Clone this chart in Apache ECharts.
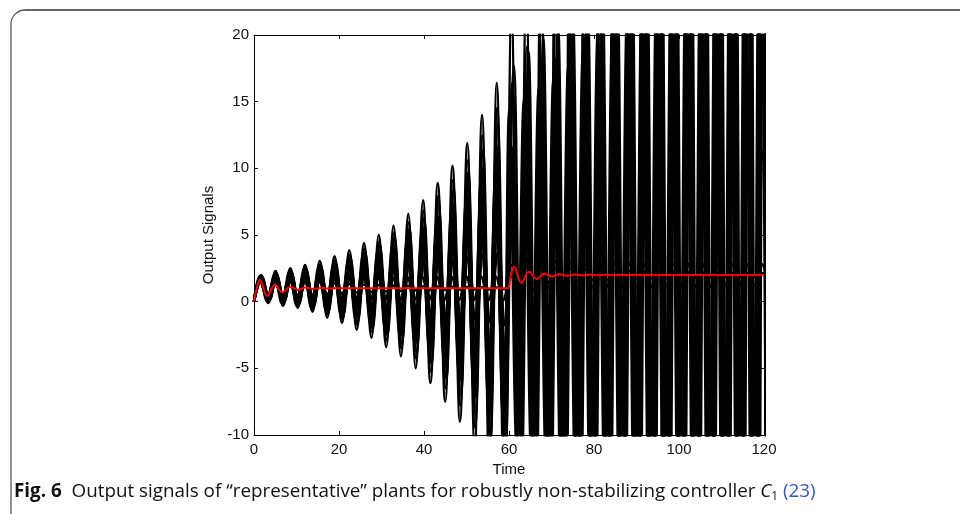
<!DOCTYPE html>
<html><head><meta charset="utf-8">
<script src="https://cdn.jsdelivr.net/npm/echarts@6/dist/echarts.min.js"></script>
<style>html,body{margin:0;padding:0;background:#fff}#c{width:960px;height:514px}</style>
</head><body><div id="c"></div>
<script>
// ---- axes ----
const xTicks = [0, 20, 40, 60, 80, 100, 120];
const yTicks = [-10, -5, 0, 5, 10, 15, 20];

// ---- extrema times (phase groups) ----
const tGrid1 = [0, 1.6, 3.34, 5.07, 6.81, 8.54, 10.28, 12.01, 13.75, 15.48, 17.22, 18.95, 20.69, 22.42, 24.16, 25.89, 27.63, 29.36, 31.1, 32.83, 34.57, 36.3, 38.04, 39.77, 41.51, 43.24, 44.98, 46.71, 48.45, 50.18, 51.92, 53.65, 55.39, 57.12, 58.86,
  60.59, 62.33, 64.06, 65.8, 67.53, 69.27, 71.0, 72.74, 74.47, 76.21, 77.94, 79.68, 81.41, 83.15, 84.88, 86.62, 88.35, 90.09, 91.82, 93.56, 95.29, 97.03, 98.76, 100.5, 102.23, 103.97, 105.7, 107.44, 109.17, 110.91, 112.64, 114.38, 116.11, 117.85, 119.58, 121.32];
const tGrid2 = [0, 1.85, 3.59, 5.32, 7.06, 8.79, 10.53, 12.26, 14.0, 15.73, 17.47, 19.2, 20.94, 22.67, 24.41, 26.14, 27.88, 29.61, 31.35, 33.08, 34.82, 36.55, 38.29, 40.02, 41.76, 43.49, 45.23, 46.96, 48.7, 50.43, 52.17, 53.9, 55.64, 57.37, 59.11,
  60.74, 62.48, 64.21, 65.95, 67.68, 69.42, 71.15, 72.89, 74.62, 76.36, 78.09, 79.83, 81.56, 83.3, 85.03, 86.77, 88.5, 90.24, 91.97, 93.71, 95.44, 97.18, 98.91, 100.65, 102.38, 104.12, 105.85, 107.59, 109.32, 111.06, 112.79, 114.53, 116.26, 118.0, 119.73, 121.47];
const tGrid3 = [0, 1.35, 3.09, 4.82, 6.56, 8.29, 10.03, 11.76, 13.5, 15.23, 16.97, 18.7, 20.44, 22.17, 23.91, 25.64, 27.38, 29.11, 30.85, 32.58, 34.32, 36.05, 37.79, 39.52, 41.26, 42.99, 44.73, 46.46, 48.2, 49.93, 51.67, 53.4, 55.14, 56.87, 58.61,
  60.44, 62.18, 63.91, 65.65, 67.38, 69.12, 70.85, 72.59, 74.32, 76.06, 77.79, 79.53, 81.26, 83.0, 84.73, 86.47, 88.2, 89.94, 91.67, 93.41, 95.14, 96.88, 98.61, 100.35, 102.08, 103.82, 105.55, 107.29, 109.02, 110.76, 112.49, 114.23, 115.96, 117.7, 119.43, 121.17];
const tGrid4 = [0, 1.7, 3.44, 5.17, 6.91, 8.64, 10.38, 12.11, 13.85, 15.58, 17.32, 19.05, 20.79, 22.52, 24.26, 25.99, 27.73, 29.46, 31.2, 32.93, 34.67, 36.4, 38.14, 39.87, 41.61, 43.34, 45.08, 46.81, 48.55, 50.28, 52.02, 53.75, 55.49, 57.22, 58.96,
  61.14, 62.88, 64.61, 66.35, 68.08, 69.82, 71.55, 73.29, 75.02, 76.76, 78.49, 80.23, 81.96, 83.7, 85.43, 87.17, 88.9, 90.64, 92.37, 94.11, 95.84, 97.58, 99.31, 101.05, 102.78, 104.52, 106.25, 107.99, 109.72, 111.46, 113.19, 114.93, 116.66, 118.4, 120.13, 121.87];
const tGrid5 = [0, 1.5, 3.24, 4.97, 6.71, 8.44, 10.18, 11.91, 13.65, 15.38, 17.12, 18.85, 20.59, 22.32, 24.06, 25.79, 27.53, 29.26, 31.0, 32.73, 34.47, 36.2, 37.94, 39.67, 41.41, 43.14, 44.88, 46.61, 48.35, 50.08, 51.82, 53.55, 55.29, 57.02, 58.76,
  60.04, 61.78, 63.51, 65.25, 66.98, 68.72, 70.45, 72.19, 73.92, 75.66, 77.39, 79.13, 80.86, 82.6, 84.33, 86.07, 87.8, 89.54, 91.27, 93.01, 94.74, 96.48, 98.21, 99.95, 101.68, 103.42, 105.15, 106.89, 108.62, 110.36, 112.09, 113.83, 115.56, 117.3, 119.03, 120.77];

// ---- black output signals (values at the extrema) ----
const plantA = [0, 2.0,-0.1, 2.3,-0.3, 2.5,-0.45, 2.75,-0.75, 3.05,-1.2, 3.4,-1.6, 3.85,-2.1, 4.4,-2.7, 5.0,-3.4, 5.7,-4.1, 6.6,-5.0, 7.6,-6.1, 8.9,-7.5, 10.2,-9.0, 11.9,-10.9, 14.0,-13.0, 16.4,-15.5,
  21.6,-17.6, 23.4,-21.3, 27.4,-25.7, 32.2,-30.9, 37.9,-37.1, 44.6,-44.4, 52.6,-53.2, 62.1,-63.5, 73.4,-75.9, 86.9,-90.5, 102.8,-107.9, 121.8,-128.6, 144.3,-153, 171,-182, 203,-217, 241,-258, 286,-307, 339,-365];
const plantD = [0, 1.85,0.1, 1.95,0.0, 2.05,-0.11, 2.17,-0.24, 2.31,-0.38, 2.45,-0.53, 2.62,-0.71, 2.8,-0.9, 3.0,-1.11, 3.23,-1.35, 3.48,-1.62, 3.76,-1.91, 4.07,-2.24, 4.42,-2.61, 4.81,-3.02, 5.24,-3.47, 5.72,-3.98,
  7.25,-3.54, 7.85,-4.17, 8.51,-4.87, 9.25,-5.64, 10.06,-6.51, 10.98,-7.47, 11.99,-8.5, 13.1,-9.7, 14.4,-11.1, 15.8,-12.5, 17.3,-14.2, 19.1,-16, 21,-18, 23.1,-20.3, 25.5,-22.8, 28.2,-25.6, 31.2,-28.8, 34.5,-32.3];
const plantG = [0, 1.8,0.26, 1.69,0.36, 1.6,0.44, 1.52,0.52, 1.45,0.58, 1.39,0.64, 1.33,0.69, 1.29,0.73, 1.25,0.77, 1.22,0.8, 1.19,0.83, 1.16,0.85, 1.14,0.87, 1.12,0.89, 1.1,0.91, 1.08,0.92, 1.07,0.93,
  2.75,1.3, 2.65,1.38, 2.58,1.45, 2.52,1.51, 2.46,1.56, 2.41,1.61, 2.37,1.65, 2.33,1.68, 2.3,1.71, 2.27,1.74, 2.24,1.76, 2.22,1.78, 2.2,1.8, 2.18,1.82, 2.16,1.84, 2.15,1.85, 2.14,1.86, 2.13,1.87];
const plantL = [0, 1.55,0.4, 1.72,0.28, 1.83,0.2, 1.96,0.04, 2.13,-0.21, 2.32,-0.43, 2.57,-0.71, 2.87,-1.04, 3.2,-1.42, 3.59,-1.81, 4.08,-2.3, 4.63,-2.91, 5.35,-3.68, 6.06,-4.5, 7.0,-5.55, 8.15,-6.7, 9.47,-8.08,
  11.7,-8.3, 12.9,-9.6, 14.3,-11, 15.8,-12.6, 17.5,-14.4, 19.4,-16.4, 21.5,-18.7, 23.9,-21.3, 26.7,-24.1, 29.7,-27.4, 33.1,-31, 37,-35.1, 41.3,-39.6, 46.1,-44.8, 51.6,-50.5, 57.7,-57, 64.6,-64.3, 72.3,-72.5];
const plantB = [0, 1.8,0.1, 2.0,-0.05, 2.2,-0.2, 2.4,-0.4, 2.65,-0.75, 2.9,-1.1, 3.3,-1.5, 3.7,-2.0, 4.2,-2.5, 4.8,-3.1, 5.5,-3.8, 6.3,-4.7, 7.3,-5.8, 8.4,-7.0, 9.7,-8.5, 11.4,-10.2, 13.3,-12.2,
  16.4,-13.7, 19.1,-16.6, 22.3,-20.1, 26.1,-24.3, 30.7,-29.2, 36,-35, 42.4,-42, 50,-50.3, 59,-60, 69.6,-71.7, 82,-85.6, 97.5,-102, 115,-121, 136,-144, 162,-172, 192,-205, 227,-243, 269,-289];
const plantE = [0, 1.9,0.07, 1.96,0.0, 2.03,-0.07, 2.1,-0.14, 2.18,-0.23, 2.27,-0.31, 2.36,-0.41, 2.46,-0.51, 2.56,-0.61, 2.67,-0.73, 2.79,-0.85, 2.92,-0.98, 3.05,-1.13, 3.2,-1.28, 3.36,-1.44, 3.52,-1.61, 3.7,-1.8,
  4.9,-1.0, 5.1,-1.21, 5.33,-1.44, 5.56,-1.69, 5.82,-1.95, 6.09,-2.23, 6.38,-2.53, 6.69,-2.86, 7.03,-3.2, 7.38,-3.57, 7.77,-3.97, 8.18,-4.4, 8.62,-4.85, 9.09,-5.34, 9.6,-5.86, 10.14,-6.42, 10.72,-7.02, 11.34,-7.67];
const plantH = [0, 1.7,0.25, 1.79,0.15, 1.9,0.04, 2.02,-0.09, 2.16,-0.23, 2.31,-0.4, 2.49,-0.59, 2.69,-0.8, 2.92,-1.04, 3.17,-1.31, 3.46,-1.62, 3.79,-1.98, 4.17,-2.38, 4.6,-2.83, 5.08,-3.35, 5.63,-3.93, 6.25,-4.59,
  7.95,-4.34, 8.75,-5.19, 9.66,-6.16, 10.69,-7.25, 11.85,-8.5, 13.2,-9.9, 14.7,-11.5, 16.4,-13.3, 18.3,-15.4, 20.5,-17.7, 23,-20.3, 25.8,-23.3, 29,-26.7, 32.6,-30.6, 36.7,-34.9, 41.3,-39.9, 46.6,-45.5, 52.6,-51.9];
const plantM = [0, 1.75,0.2, 1.86,0.08, 1.98,-0.05, 2.12,-0.2, 2.29,-0.38, 2.47,-0.58, 2.69,-0.8, 2.93,-1.07, 3.21,-1.37, 3.53,-1.71, 3.9,-2.1, 4.32,-2.55, 4.8,-3.07, 5.35,-3.66, 5.98,-4.33, 6.71,-5.1, 7.53,-5.99,
  9.5,-6, 10.6,-7.2, 11.8,-8.5, 13.2,-10, 14.9,-11.8, 16.7,-13.8, 18.9,-16.1, 21.3,-18.7, 24.1,-21.7, 27.3,-25.1, 31,-29, 35.2,-33.5, 40,-38.7, 45.5,-44.6, 51.8,-51.3, 59,-59, 67.3,-67.9, 76.8,-78];
const plantC = [0, 1.9,0.03, 2.04,-0.12, 2.2,-0.29, 2.39,-0.49, 2.6,-0.72, 2.85,-0.99, 3.14,-1.3, 3.47,-1.66, 3.86,-2.07, 4.3,-2.55, 4.82,-3.1, 5.41,-3.74, 6.1,-4.48, 6.89,-5.33, 7.81,-6.32, 8.87,-7.46, 10.1,-8.78, 11.5,
  -9.3, 14.1,-11, 16,-13.1, 18.2,-15.4, 20.7,-18.1, 23.6,-21.2, 27,-24.9, 30.9,-29, 35.4,-33.9, 40.6,-39.5, 46.6,-45.9, 53.5,-53.4, 61.5,-62, 70.8,-72, 81.5,-83.5, 93.9,-96.8, 108,-112, 125,-130];
const plantF = [0, 1.75,0.2, 1.8,0.22, 1.78,0.2, 1.8,0.2, 1.8,0.18, 1.82,0.18, 1.82,0.17, 1.83,0.17, 1.84,0.16, 1.84,0.15, 1.85,0.15, 1.86,0.14, 1.86,0.13, 1.87,0.12, 1.88,0.12, 1.88,0.11, 1.89,0.1, 1.9,
  1.0, 3.2,0.85, 3.1,0.95, 3.05,1.0, 3.0,1.05, 2.95,1.05, 2.95,1.1, 2.9,1.1, 2.9,1.12, 2.88,1.12, 2.88,1.14, 2.86,1.15, 2.85,1.15, 2.85,1.16, 2.84,1.17, 2.83,1.18, 2.82,1.18, 2.82,1.19];
const plantI = [0, 1.6,0.35, 1.71,0.23, 1.83,0.1, 1.98,-0.06, 2.15,-0.25, 2.36,-0.47, 2.6,-0.73, 2.88,-1.04, 3.21,-1.4, 3.6,-1.82, 4.06,-2.32, 4.61,-2.91, 5.25,-3.61, 6.0,-4.42, 6.89,-5.39, 7.93,-6.52, 9.16,-7.85, 10.6,
  -8.4, 13.3,-10.3, 15.3,-12.4, 17.7,-15, 20.5,-18, 23.7,-21.6, 27.6,-25.8, 32.1,-30.7, 37.5,-36.5, 43.8,-43.3, 51.2,-51.3, 59.9,-60.8, 70.1,-71.9, 82.2,-85, 96.4,-100, 113,-119, 133,-140, 156,-165];
const plantN = [0, 1.6,0.35, 1.7,0.24, 1.82,0.12, 1.95,-0.03, 2.11,-0.2, 2.3,-0.4, 2.51,-0.63, 2.76,-0.9, 3.06,-1.22, 3.4,-1.59, 3.8,-2.02, 4.26,-2.52, 4.81,-3.11, 5.44,-3.8, 6.18,-4.6, 7.04,-5.53, 8.05,-6.61, 9.22,
  -6.9, 11.6,-8.4, 13.2,-10.1, 15.1,-12.1, 17.2,-14.5, 19.8,-17.2, 22.7,-20.4, 26.2,-24.1, 30.2,-28.5, 34.9,-33.5, 40.4,-39.4, 46.7,-46.3, 54.2,-54.4, 62.9,-63.7, 73,-74.7, 84.8,-87.4, 98.6,-102, 115,-120];
const plantJ = [0, 1.88,0.03, 2.14,-0.14, 2.32,-0.28, 2.54,-0.54, 2.8,-0.94, 3.11,-1.29, 3.51,-1.73, 3.99,-2.26, 4.52,-2.87, 5.14,-3.49, 5.93,-4.28, 6.81,-5.25, 7.95,-6.48, 9.1,-7.8, 10.59,-9.47, 12.44,-11.32, 14.55,-13.52,
  17.7,-14.2, 18.7,-15.2, 19.7,-16.2, 20.7,-17.3, 21.8,-18.4, 23,-19.6, 24.3,-20.9, 25.6,-22.3, 27,-23.8, 28.5,-25.3, 30.1,-27, 31.8,-28.7, 33.6,-30.6, 35.5,-32.5, 37.6,-34.6, 39.7,-36.9, 42,-39.2, 44.5,-41.7];
const plantK = [0, 1.7,0.23, 1.91,0.09, 2.05,-0.02, 2.23,-0.23, 2.44,-0.54, 2.68,-0.82, 3.0,-1.17, 3.38,-1.59, 3.8,-2.08, 4.29,-2.57, 4.92,-3.2, 5.62,-3.97, 6.53,-4.95, 7.44,-6.0, 8.63,-7.33, 10.1,-8.8, 11.78,-10.55,
  14.4,-10.8, 15.2,-11.6, 16,-12.4, 16.8,-13.3, 17.7,-14.2, 18.7,-15.2, 19.7,-16.2, 20.8,-17.3, 21.9,-18.5, 23.1,-19.7, 24.4,-21.1, 25.8,-22.5, 27.2,-24, 28.7,-25.5, 30.4,-27.2, 32.1,-29, 33.9,-30.9, 35.9,-32.9];

// ---- nominal plant (red) ----
const nominalT = [0, 0.5, 1.4, 3.1, 4.9, 6.7, 8.5, 10.3, 12.1, 13.9, 15.7, 17.5, 19.3, 59.3, 59.8, 60.3, 61.2, 62.9, 64.7, 66.5, 68.3, 70.1, 71.9, 73.7, 75.5, 77.3, 79.1, 80.9, 82.7, 84.5, 86.3, 88.1, 89.9, 91.7, 93.5, 95.3, 97.1, 98.9, 100.7, 102.5, 104.3, 106.1, 107.9, 109.7, 111.5, 113.3, 115.1, 116.9, 118.7, 120];
const nominalY = [0, 0.8, 1.63, 0.42, 1.25, 0.7, 1.12, 0.88, 1.06, 0.95, 1.02, 0.98, 1.0, 1.0, 1.0, 1.75, 2.63, 1.42, 2.25, 1.7, 2.12, 1.88, 2.06, 1.95, 2.03, 1.97, 2.02, 1.98, 2.02, 1.98, 2.02, 1.98, 2.02, 1.98, 2.02, 1.98, 2.02, 1.98, 2.02, 1.98, 2.02, 1.98, 2.02, 1.98, 2.02, 1.98, 2.02, 1.98, 2.02, 2.0];

const blackCurves = [
  [tGrid1, plantA], [tGrid2, plantB], [tGrid3, plantC], [tGrid4, plantJ], [tGrid5, plantK],
  [tGrid1, plantD], [tGrid2, plantE], [tGrid3, plantF], [tGrid1, plantL], [tGrid2, plantM],
  [tGrid1, plantG], [tGrid2, plantH], [tGrid3, plantI], [tGrid3, plantN]
];

const pair = (ts, vs) => ts.map((t, i) => [t, vs[i]]);

const series = blackCurves.map(([ts, vs]) => ({
  type: 'line', data: pair(ts, vs), smooth: 0.4, symbol: 'none', silent: true,
  lineStyle: { color: '#000', width: 2.5 }, z: 2, clip: true
}));
series.push({
  type: 'line', data: pair(nominalT, nominalY), smooth: 0.4, symbol: 'none', silent: true,
  lineStyle: { color: '#ff0000', width: 2 }, z: 5, clip: true
});

const labelFont = { fontFamily: 'Liberation Sans, Arial, sans-serif', fontSize: 15, color: '#111' };
const baseX = { type: 'value', min: xTicks[0], max: xTicks[xTicks.length - 1], interval: 20, splitLine: { show: false },
  axisLine: { onZero: false, lineStyle: { color: '#000', width: 1 } } };
const baseY = { type: 'value', min: yTicks[0], max: yTicks[yTicks.length - 1], interval: 5, splitLine: { show: false },
  axisLine: { onZero: false, lineStyle: { color: '#000', width: 1 } } };

const capFont = 'Open Sans, Noto Sans, sans-serif';
const chart = echarts.init(document.getElementById('c'), null, { renderer: 'canvas' });
chart.setOption({
  animation: false,
  backgroundColor: '#fff',
  grid: { left: 254, top: 35, width: 510, height: 400 },
  xAxis: [
    Object.assign({}, baseX, { position: 'bottom', name: 'Time', nameLocation: 'middle', nameGap: 26,
      nameTextStyle: labelFont, axisTick: { inside: true, length: 4, lineStyle: { color: '#000' } },
      axisLabel: Object.assign({ margin: 7 }, labelFont) }),
    Object.assign({}, baseX, { position: 'top', axisTick: { inside: true, length: 4, lineStyle: { color: '#000' } },
      axisLabel: { show: false } })
  ],
  yAxis: [
    Object.assign({}, baseY, { position: 'left', name: 'Output Signals', nameLocation: 'middle', nameGap: 34,
      nameTextStyle: labelFont, axisTick: { inside: true, length: 4, lineStyle: { color: '#000' } },
      axisLabel: Object.assign({ margin: 5 }, labelFont) }),
    Object.assign({}, baseY, { position: 'right', axisTick: { inside: true, length: 4, lineStyle: { color: '#000' } },
      axisLabel: { show: false } })
  ],
  series: series,
  graphic: [
    { type: 'line', shape: { x1: 11, y1: 514, x2: 11, y2: 24 }, style: { stroke: '#555', lineWidth: 1.3 }, silent: true },
    { type: 'arc', shape: { cx: 25, cy: 24, r: 14, startAngle: Math.PI, endAngle: Math.PI * 1.5, clockwise: true },
      style: { stroke: '#555', lineWidth: 1.3, fill: 'none' }, silent: true },
    { type: 'line', shape: { x1: 25, y1: 10, x2: 960, y2: 10 }, style: { stroke: '#666', lineWidth: 1.8 }, silent: true },
    { type: 'text', x: 14, y: 492, scaleX: 0.99, silent: true,
      style: {
        text: '{b|Fig. 6}   {n|Output signals of \u201crepresentative\u201d plants for robustly non-stabilizing controller }{i|C}{s|1}{n| }{l|(23)}',
        verticalAlign: 'middle', align: 'left',
        rich: {
          b: { fontFamily: capFont, fontWeight: 'bold', fontSize: 19, fill: '#111' },
          n: { fontFamily: capFont, fontSize: 19, fill: '#111' },
          i: { fontFamily: capFont, fontStyle: 'italic', fontSize: 19, fill: '#111' },
          s: { fontFamily: capFont, fontSize: 12, fill: '#111', padding: [9, 0, 0, 0] },
          l: { fontFamily: capFont, fontSize: 19, fill: '#2f55c8' }
        }
      } }
  ]
});
</script></body></html>
